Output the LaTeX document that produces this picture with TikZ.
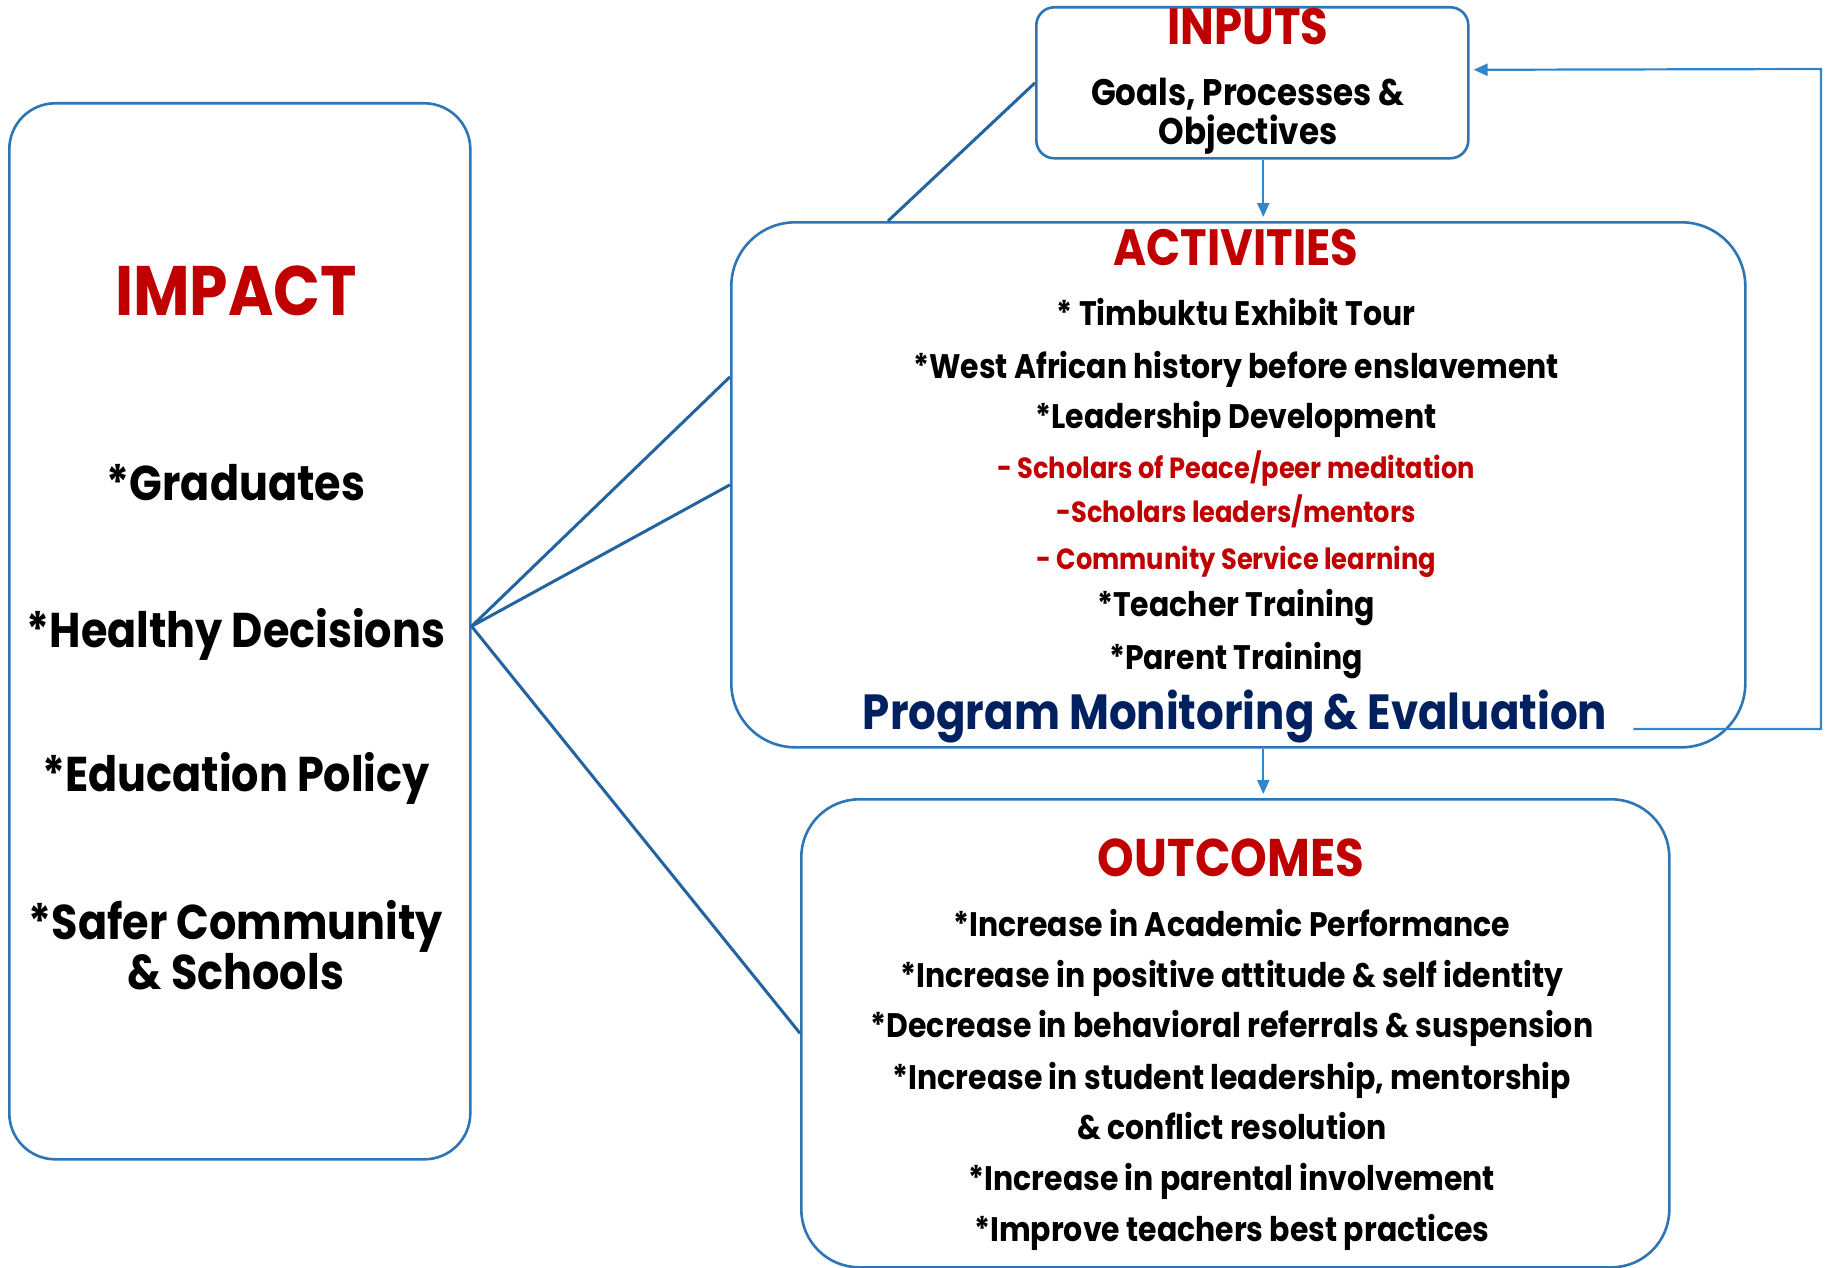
\documentclass[tikz,border=0pt]{standalone}
\usepackage{fontspec}
\setmainfont{Poppins}[FakeStretch=0.88]
\usetikzlibrary{positioning,calc,arrows.meta}
\definecolor{boxblue}{RGB}{46,117,182}
\definecolor{linkblue}{RGB}{35,100,160}
\definecolor{arrowblue}{RGB}{47,134,203}
\definecolor{headred}{RGB}{192,0,0}
\definecolor{navy}{RGB}{0,32,96}
\tikzstyle{box} = [draw=boxblue, line width=1.3pt, rectangle, anchor=north west, inner sep=0pt]
\tikzstyle{title} = [anchor=base, inner sep=0pt, text=headred, font=\bfseries\fontsize{25.5}{30}\selectfont]
\tikzstyle{item} = [anchor=base, inner sep=0pt, font=\bfseries\fontsize{17}{20}\selectfont]
\tikzstyle{sub} = [anchor=base, inner sep=0pt, text=headred, font=\bfseries\fontsize{14.6}{17}\selectfont]
\tikzstyle{big} = [anchor=base, inner sep=0pt, font=\bfseries\fontsize{24.4}{25}\selectfont]
\tikzstyle{flow} = [draw=arrowblue, line width=1.1pt, -{Triangle[length=7pt,width=6pt]}, shorten >=2pt]
\tikzstyle{link} = [draw=linkblue, line width=1.5pt]

\begin{document}
\begin{tikzpicture}[x=0.5pt, y=-0.5pt]
        \useasboundingbox (0,0) rectangle (1825,1268);

        \node [box, minimum width=230.5pt, minimum height=528pt, rounded corners=23pt] (imp) at (8,102) {};
        \node [box, minimum width=216pt, minimum height=75.5pt, rounded corners=9pt] (inp) at (1035,6) {};
        \node [box, minimum width=507pt, minimum height=262.5pt, rounded corners=32pt] (act) at (730,221) {};
        \node [box, minimum width=434pt, minimum height=234pt, rounded corners=29pt] (out) at (800,798) {};

        \node [title, font=\bfseries\fontsize{35}{35}\selectfont] (impt) at (236,315) {IMPACT};
        \node [big] (grad) at (236,500) {*Graduates};
        \node [big] (heal) at (236,647) {*Healthy Decisions};
        \node [big] (edu) at (236,791) {*Education Policy};
        \node [big] (safe) at (236,939) {*Safer Community};
        \node [big] (scho) at (236,989) {\& Schools};

        \node [title] (inpt) at (1248,45) {INPUTS};
        \node [item, font=\bfseries\fontsize{18.5}{20}\selectfont] (goal) at (1248,105) {Goals, Processes \&};
        \node [item, font=\bfseries\fontsize{18.5}{20}\selectfont] (obj) at (1248,145) {Objectives};

        \node [title] (actt) at (1236,265) {ACTIVITIES};
        \node [item] (a1) at (1236,325) {* Timbuktu Exhibit Tour};
        \node [item] (a2) at (1236,378) {*West African history before enslavement};
        \node [item] (a3) at (1236,428) {*Leadership Development};
        \node [sub] (a4) at (1236,478) {- Scholars of Peace/peer meditation};
        \node [sub] (a5) at (1236,522) {-Scholars leaders/mentors};
        \node [sub] (a6) at (1236,569) {- Community Service learning};
        \node [item] (a7) at (1236,616) {*Teacher Training};
        \node [item] (a8) at (1236,669) {*Parent Training};
        \node [big, text=navy, font=\bfseries\fontsize{24.7}{25}\selectfont] (pme) at (1235,729) {Program Monitoring \& Evaluation};

        \node [title, font=\bfseries\fontsize{26.5}{30}\selectfont] (outt) at (1231,876) {OUTCOMES};
        \node [item] (o1) at (1232,936) {*Increase in Academic Performance};
        \node [item] (o2) at (1232,987) {*Increase in positive attitude \& self identity};
        \node [item] (o3) at (1232,1037) {*Decrease in behavioral referrals \& suspension};
        \node [item] (o4) at (1232,1089) {*Increase in student leadership, mentorship};
        \node [item] (o5) at (1232,1139) {\& conflict resolution};
        \node [item] (o6) at (1232,1190) {*Increase in parental involvement};
        \node [item] (o7) at (1232,1241) {*Improve teachers best practices};

        \coordinate (hub) at ([yshift=2.5pt]imp.east);
        \coordinate (fb) at (1821,69);

        \draw [link] (hub) -- ([yshift=54pt]act.west);
        \draw [link] (hub) -- (act.west);
        \draw [link] (hub) -- (out.west);
        \draw [link] ($(act.north west)+(158,0)$) -- (inp.west);

        \draw [flow] ([xshift=5.5pt]inp.south) -- ([xshift=5.5pt]inp.south |- act.north);
        \draw [flow] ([xshift=12.5pt]act.south) -- ([xshift=12.5pt]act.south |- out.north);
        \draw [flow] ([xshift=13pt]pme.base east) -| (fb) -- ([yshift=6.5pt]inp.east);
    \end{tikzpicture}
\end{document}
